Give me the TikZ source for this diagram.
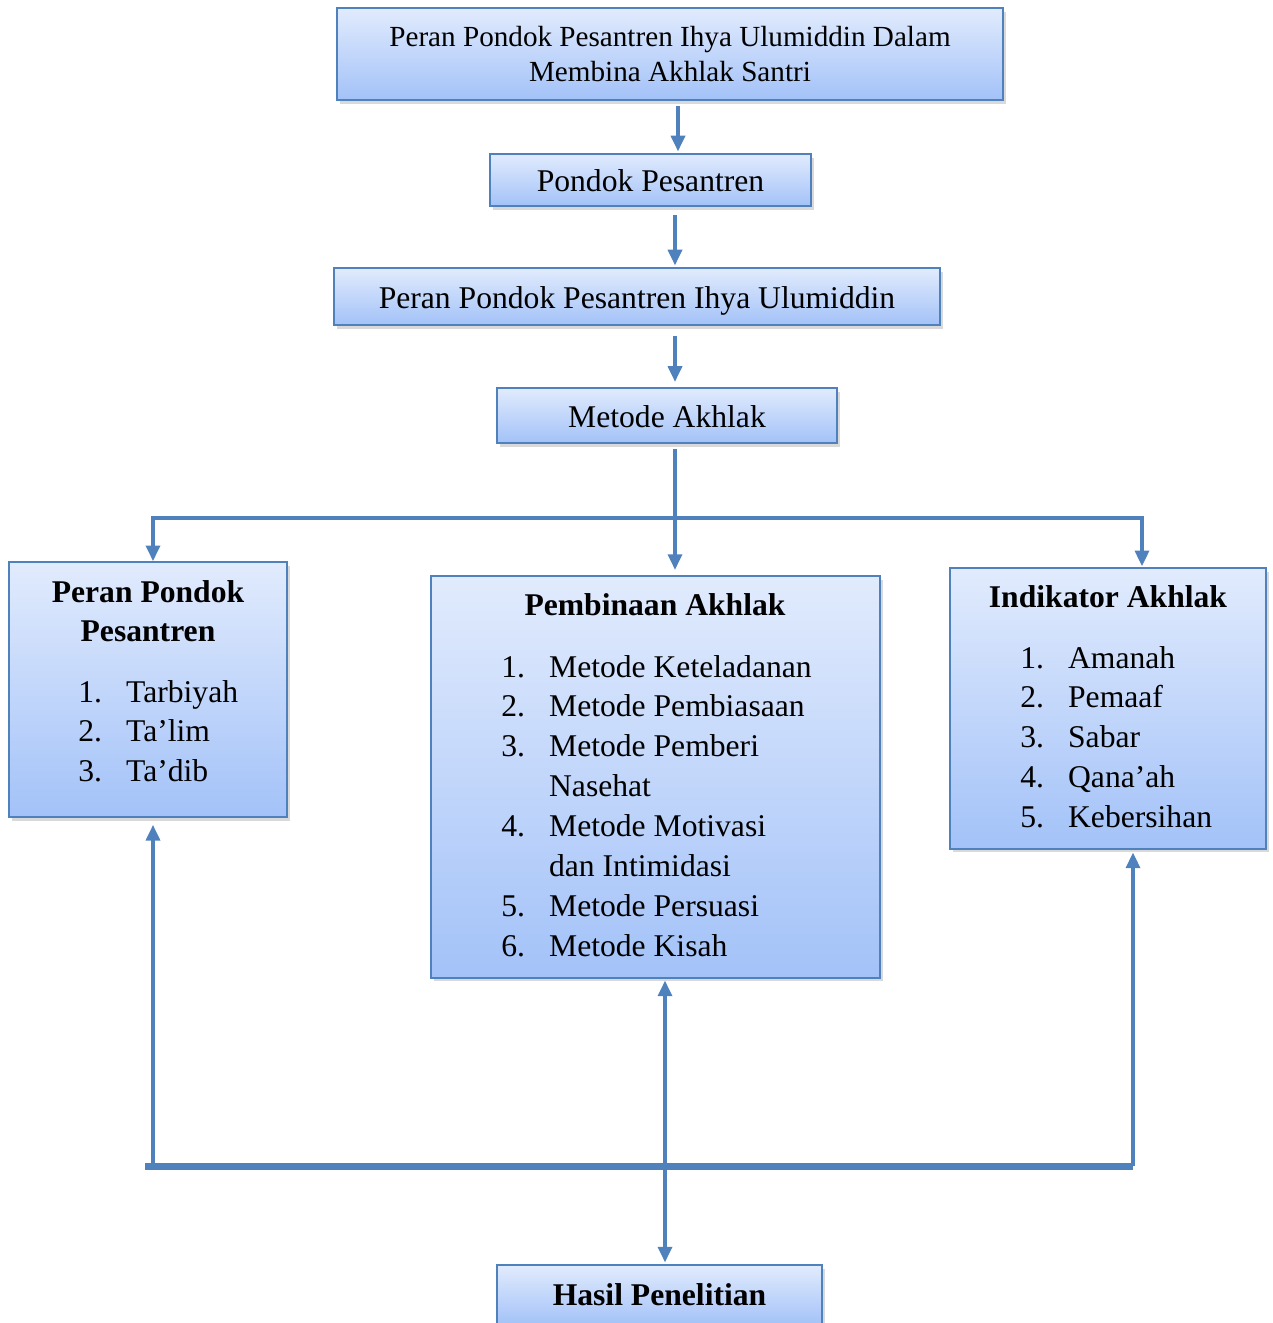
\documentclass[tikz,border=0pt]{standalone}
\usepackage{fontspec}
\setmainfont{Liberation Serif}
\usetikzlibrary{arrows.meta,shadows}

\definecolor{boxtop}{RGB}{225,235,253}
\definecolor{boxbot}{RGB}{163,194,248}
\definecolor{boxline}{RGB}{79,129,189}

\newcommand{\bigfont}{\fontsize{18}{22.7}\selectfont}
\newcommand{\numitem}[2]{\makebox[27.2pt][l]{#1}#2}

\tikzset{
	box/.style={draw=boxline, line width=0.8pt, top color=boxtop, bottom color=boxbot,
		drop shadow={shadow xshift=1.5pt, shadow yshift=-2pt, opacity=0.3},
		inner sep=0pt, font=\bigfont},
	onebox/.style={box, text height=13.5pt, text depth=0pt},
	flow/.style={draw=boxline, line width=2.3pt, -{Triangle[width=7.8pt,length=9pt]},
		shorten <=3pt, shorten >=1pt},
	line/.style={draw=boxline, line width=2.3pt},
	bar/.style={draw=boxline, line width=4pt}
}

\begin{document}
\begin{tikzpicture}[x=0.02cm, y=-0.02cm]
			\useasboundingbox (0,0) rectangle (1273,1323);

			%	Boxes of the chain
			\node[box, align=center, minimum width=13.32cm, minimum height=1.84cm, font=\fontsize{16.6}{20.4}\selectfont] (top) at (670,54) {Peran Pondok Pesantren Ihya Ulumiddin Dalam\\Membina Akhlak Santri};
			\node[onebox, minimum width=6.42cm, minimum height=1.04cm] (pondok) at (650.5,180) {Pondok Pesantren};
			\node[onebox, minimum width=12.12cm, minimum height=1.14cm] (ihya) at (637,296.5) {Peran Pondok Pesantren Ihya Ulumiddin};
			\node[onebox, minimum width=6.8cm, minimum height=1.1cm] (metode) at (667,415.5) {Metode Akhlak};

			%	Three boxes
			\node[box, minimum width=5.56cm, minimum height=5.1cm] (pp) at (148,689.5) {};
			\node[box, minimum width=8.98cm, minimum height=8.04cm] (pem) at (655.5,777) {};
			\node[box, minimum width=6.32cm, minimum height=5.62cm] (ind) at (1108,708.5) {};

			%	Result
			\node[onebox, text height=11.7pt, minimum width=6.5cm, minimum height=1.2cm, font=\bigfont\bfseries] (hasil) at (659.5,1295) {Hasil Penelitian};

			%	Texts of the left box
			\node[anchor=base, inner sep=0pt, font=\bigfont\bfseries] (ppHead) at (148,602) {\begin{tabular}[t]{@{}c@{}}Peran Pondok\\Pesantren\end{tabular}};
			\node[anchor=base west, inner sep=0pt, font=\bigfont] (ppList) at (78,702) {\begin{tabular}[t]{@{}l@{}}
				\numitem{1.}{Tarbiyah}\\
				\numitem{2.}{Ta’lim}\\
				\numitem{3.}{Ta’dib}
			\end{tabular}};

			%	Texts of the middle box
			\node[anchor=base, inner sep=0pt, font=\bigfont\bfseries] (pemHead) at (655,615) {Pembinaan Akhlak};
			\node[anchor=base west, inner sep=0pt, font=\bigfont] (pemList) at (501,677) {\begin{tabular}[t]{@{}l@{}}
				\numitem{1.}{Metode Keteladanan}\\
				\numitem{2.}{Metode Pembiasaan}\\
				\numitem{3.}{Metode Pemberi}\\
				\numitem{}{Nasehat}\\
				\numitem{4.}{Metode Motivasi}\\
				\numitem{}{dan Intimidasi}\\
				\numitem{5.}{Metode Persuasi}\\
				\numitem{6.}{Metode Kisah}
			\end{tabular}};

			%	Texts of the right box
			\node[anchor=base, inner sep=0pt, font=\bigfont\bfseries] (indHead) at (1108,607) {Indikator Akhlak};
			\node[anchor=base west, inner sep=0pt, font=\bigfont] (indList) at (1020,668) {\begin{tabular}[t]{@{}l@{}}
				\numitem{1.}{Amanah}\\
				\numitem{2.}{Pemaaf}\\
				\numitem{3.}{Sabar}\\
				\numitem{4.}{Qana’ah}\\
				\numitem{5.}{Kebersihan}
			\end{tabular}};

			%	Arrows down the chain
			\draw[flow] (top.south -| 678,0) -- (pondok.north -| 678,0);
			\draw[flow, shorten <=5pt] (pondok.south -| 675,0) -- (ihya.north -| 675,0);
			\draw[flow, shorten <=6pt, shorten >=3pt] (ihya.south -| 675,0) -- (metode.north -| 675,0);

			%	Split to the three boxes
			\coordinate (split) at (675,518);
			\draw[line, shorten <=3pt] (metode.south -| split) -- (split);
			\draw[flow, shorten <=0pt, shorten >=0pt] (split) -| (pp.north -| 153,0);
			\draw[flow, shorten <=0pt, shorten >=3pt] (split) -- (split |- pem.north);
			\draw[flow, shorten <=0pt, shorten >=0.5pt] (split) -| (ind.north -| 1142,0);

			%	Join below
			\coordinate (join) at (665,1166);
			\draw[bar] (join -| 145,0) -- (join -| 1133,0);
			\draw[flow, shorten <=0pt, shorten >=4pt] (join -| 153,0) -- (pp.south -| 153,0);
			\draw[flow, shorten <=0pt] (join) -- (join |- pem.south);
			\draw[flow, shorten <=0pt, shorten >=1.5pt] (join -| 1133,0) -- (ind.south -| 1133,0);
			\draw[flow, shorten <=0pt] (join) -- (join |- hasil.north);
\end{tikzpicture}
\end{document}
